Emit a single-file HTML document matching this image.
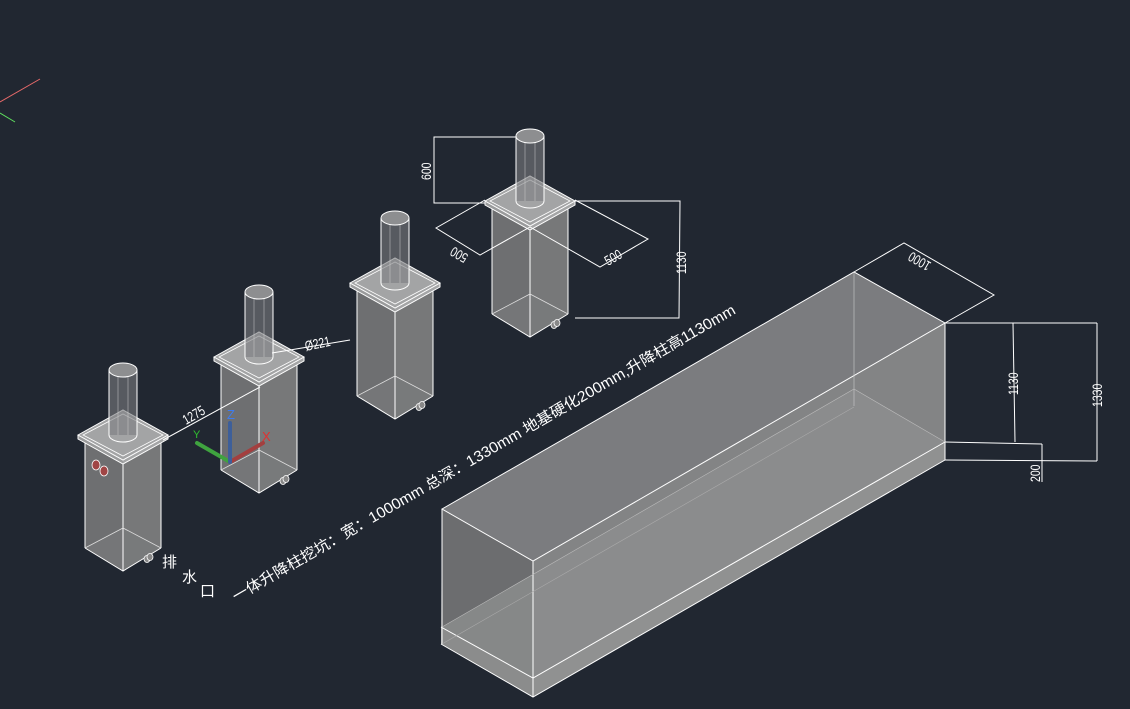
<!DOCTYPE html>
<html><head><meta charset="utf-8"><style>
html,body{margin:0;padding:0;background:#212731;}
svg{display:block}
text{font-family:"Liberation Sans","Noto Sans CJK SC",sans-serif;fill:#fff}
</style></head><body>
<svg width="1130" height="709" viewBox="0 0 1130 709" xmlns="http://www.w3.org/2000/svg">
<rect width="1130" height="709" fill="#212731"/>
<line x1="0" y1="102" x2="40" y2="79" stroke="#e86a6a" stroke-width="1"/>
<line x1="0" y1="113" x2="15" y2="122" stroke="#5fe05f" stroke-width="1"/>

<defs>
<g id="unit">
  <polygon points="-38,5 0,25 0,136 -38,113" fill="#6e6f71"/>
  <polygon points="0,25 38,5 38,113 0,136" fill="#777879"/>
  <polygon points="-38,113 0,93 38,113 0,136" fill="#7a7b7d" opacity="0.6"/>
  <g stroke="#fff" stroke-width="1" fill="none">
    <line x1="-38" y1="3" x2="-38" y2="113"/>
    <line x1="38" y1="3" x2="38" y2="113"/>
    <line x1="0" y1="27" x2="0" y2="136"/>
    <polyline points="-38,113 0,136 38,113"/>
    <polyline points="-38,113 0,93 38,113" stroke="#ddd" stroke-width="0.8"/>
  </g>
  <polygon points="-45,0 0,-25 45,0 0,25 0,29 -45,4" fill="#9a9b9c"/>
  <polygon points="0,25 45,0 45,4 0,29" fill="#a5a6a7"/>
  <polygon points="-45,0 0,-25 45,0 0,25" fill="#a3a4a5" stroke="#fff" stroke-width="1"/>
  <polygon points="-40,0 0,-21 40,0 0,21" fill="none" stroke="#fff" stroke-width="0.8"/>
  <polyline points="-45,0 -45,4 0,29 45,4 45,0" fill="none" stroke="#fff" stroke-width="1"/>
  <rect x="-14" y="-65" width="28" height="65" fill="#7c7d80" opacity="0.6"/>
  <line x1="-14" y1="-65" x2="-14" y2="0" stroke="#fff"/>
  <line x1="14" y1="-65" x2="14" y2="0" stroke="#fff"/>
  <line x1="-5" y1="-65" x2="-5" y2="0" stroke="#ccc" stroke-width="0.5"/>
  <line x1="5" y1="-65" x2="5" y2="0" stroke="#ccc" stroke-width="0.5"/>
  <ellipse cx="0" cy="-65" rx="14" ry="7" fill="#8d8e90" stroke="#fff"/>
  <path d="M-14,0 A14,7 0 0 0 14,0" fill="none" stroke="#fff"/>
  <g stroke="#fff" fill="#888" stroke-width="0.8">
    <ellipse cx="24" cy="124" rx="3" ry="3.5"/>
    <ellipse cx="27" cy="122" rx="3" ry="3.5"/>
  </g>
</g>
</defs>

<use href="#unit" x="123" y="435"/>
<use href="#unit" x="259" y="357"/>
<use href="#unit" x="395" y="283"/>
<use href="#unit" x="530" y="201"/>

<g stroke="#fff" stroke-width="0.8" fill="#a04545">
<ellipse cx="96" cy="465" rx="4" ry="5"/><ellipse cx="104" cy="471" rx="4" ry="5"/>
</g>

<g stroke="#fff" stroke-width="1" fill="none">
  <polyline points="516,137 434,137 434,203 485,203"/>
  <polyline points="575,201 680,201 679,318 575,318"/>
  <polyline points="485,200 436,228 480,255 530,227"/>
  <polyline points="575,200 648,239 600,267 530,227"/>
  <line x1="163" y1="440" x2="260" y2="387"/>
  <line x1="272" y1="353" x2="350" y2="340"/>
</g>
<text font-size="14" transform="translate(431,180) rotate(-90) scale(0.75,1)">600</text>
<text font-size="14" transform="translate(686,274) rotate(-90) scale(0.75,1)">1130</text>
<text font-size="14" transform="translate(469,255) rotate(-150) scale(0.75,1)">500</text>
<text font-size="14" transform="translate(608,266) rotate(-30) scale(0.75,1)">500</text>
<text font-size="14" transform="translate(186,425) rotate(-30) scale(0.75,1)">1275</text>
<text font-size="14" transform="translate(306,351) rotate(-12) scale(0.75,1)">Ø221</text>

<line x1="230" y1="462" x2="197" y2="443" stroke="#3fa33f" stroke-width="4" stroke-linecap="round"/>
<line x1="230" y1="462" x2="263" y2="443" stroke="#a33f3f" stroke-width="4" stroke-linecap="round"/>
<line x1="230" y1="462" x2="230" y2="423" stroke="#3d5f9a" stroke-width="4" stroke-linecap="round"/>
<text x="227" y="419" font-size="13" style="fill:#3d7cf0">Z</text>
<text x="193" y="438" font-size="11" style="fill:#2fc02f">Y</text>
<text x="262" y="441" font-size="13" style="fill:#e03030">X</text>

<polygon points="442,509 854,272 945,323 533,561" fill="#7b7c7f"/>
<polygon points="442,509 533,561 533,697 441,644" fill="#6c6d6f"/>
<polygon points="533,561 945,323 945,460 533,697" fill="#838485"/>
<polygon points="442,627 854,389 945,442 533,678" fill="#8d8e8e" opacity="0.8"/>
<polygon points="533,678 945,442 945,460 533,697" fill="#909191"/>
<polygon points="441,627 533,678 533,697 441,644" fill="#8b8c8c"/>
<g stroke="#fff" stroke-width="1" fill="none">
  <polygon points="442,509 854,272 945,323 533,561"/>
  <line x1="442" y1="509" x2="442" y2="644"/>
  <line x1="533" y1="561" x2="533" y2="697"/>
  <line x1="945" y1="323" x2="945" y2="460"/>
  <polyline points="441,644 533,697 945,460"/>
  <polyline points="441,627 533,678 945,442"/>
  <line x1="854" y1="272" x2="854" y2="406" stroke="#ccc" stroke-width="0.6"/>
  <polyline points="442,627 854,389 945,442" stroke="#bbb" stroke-width="0.6"/>
  <line x1="442" y1="644" x2="854" y2="407" stroke="#aaa" stroke-width="0.6"/>
  <polyline points="854,272 904,243 994,295 945,323"/>
  <line x1="945" y1="323" x2="1097" y2="323"/>
  <line x1="945" y1="442" x2="1042" y2="444"/>
  <line x1="945" y1="460" x2="1097" y2="461"/>
  <line x1="1013" y1="323" x2="1015" y2="442"/>
  <line x1="1097" y1="323" x2="1097" y2="461"/>
  <line x1="1042" y1="444" x2="1042" y2="482"/>
</g>
<text font-size="14" transform="translate(932,263) rotate(-150) scale(0.75,1)">1000</text>
<text font-size="14" transform="translate(1018,395) rotate(-90) scale(0.75,1)">1130</text>
<text font-size="14" transform="translate(1102,407) rotate(-90) scale(0.75,1)">1330</text>
<text font-size="14" transform="translate(1040,482) rotate(-90) scale(0.75,1)">200</text>

<text font-size="15" x="162" y="567">排</text>
<text font-size="15" x="182" y="582">水</text>
<text font-size="15" x="200" y="596">口</text>
<text font-size="15" x="0" y="0" textLength="578" lengthAdjust="spacingAndGlyphs" transform="translate(236,602) rotate(-30)">一体升降柱挖坑：宽：1000mm 总深：1330mm  地基硬化200mm,升降柱高1130mm</text>
</svg>
</body></html>
